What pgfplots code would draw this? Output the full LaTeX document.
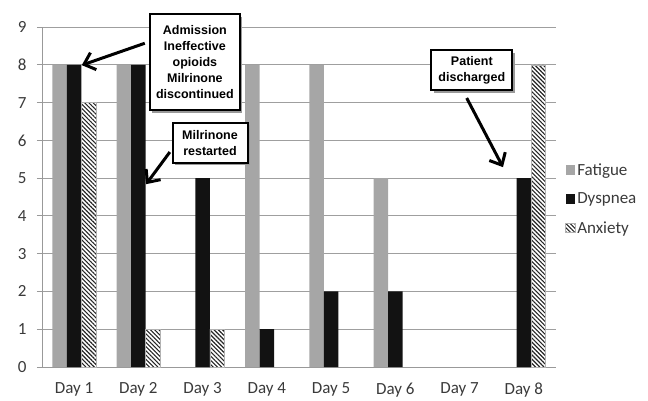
\documentclass[border=0pt]{standalone}
\usepackage{fontspec}
\setmainfont{Carlito}
\newfontfamily\annfont{Liberation Sans}
\usepackage{pgfplots}
\pgfplotsset{compat=1.18}
\usetikzlibrary{patterns.meta,arrows.meta,shadows}
\definecolor{fatigue}{HTML}{A6A6A6}
\definecolor{txt}{HTML}{3A3A3A}
\begin{document}
\begin{tikzpicture}
\useasboundingbox (-42pt,-33pt) rectangle (606pt,367pt);
\begin{axis}[
  scale only axis, width=514pt, height=340pt,
  xmin=-0.5, xmax=7.5, ymin=0, ymax=9,
  ybar, bar width=0.225,
  clip=false,
  axis lines=left,
  axis line style={-, draw=gray!80, line width=0.9pt},
  xtick={0,...,7},
  xticklabels={Day 1,Day 2,Day 3,Day 4,Day 5,Day 6,Day 7,Day 8},
  major x tick style={draw=none},
  ytick={0,...,9},
  tick align=outside,
  major y tick style={draw=gray!80, line width=0.9pt},
  major tick length=5pt,
  ymajorgrids,
  grid style={draw=gray!75, line width=0.9pt},
  /pgf/number format/assume math mode=true,
  tick label style={font=\fontsize{17}{19}\selectfont, text=txt},
  xticklabel style={yshift=-7pt},
  yticklabel style={xshift=-7pt},
  legend style={draw=none, fill=none, at={(1.012,0.61)}, anchor=north west,
     font=\fontsize{17}{19}\selectfont, text=txt, row sep=12pt,
     /tikz/every even column/.append style={column sep=1pt}},
  legend cell align=left,
  legend image code/.code={\draw[#1, draw=none] (0pt,-4.5pt) rectangle (9.5pt,5pt);},
]
\addplot[bar shift=-0.225, fill=fatigue, draw=none] coordinates {(0,8) (1,8) (3,8) (4,8) (5,5)};
\addplot[bar shift=0, fill=black!93, draw=none] coordinates {(0,8) (1,8) (2,5) (3,1) (4,2) (5,2) (7,5)};
\addplot[bar shift=0.225, fill=white, draw=gray!60, line width=0.4pt,
  postaction={pattern={Lines[angle=-45,distance=3pt,line width=1.1pt]}, pattern color=black!85}]
  coordinates {(0,7) (1,1) (2,1) (7,8)};
\legend{Fatigue,Dyspnea,Anxiety}

\tikzset{annbox/.style={draw=black, line width=2pt, fill=white, align=center,
   font=\annfont\bfseries\fontsize{12.5}{16}\selectfont, inner sep=3pt,
   drop shadow={shadow xshift=2.5pt, shadow yshift=-2.5pt, fill=gray!80, opacity=1}},
   annarrow/.style={line width=3pt, -{Straight Barb[length=10pt,width=18pt]}}}

\draw[annarrow] (axis cs:1.10,8.57) -- (axis cs:0.12,7.99);
\draw[annarrow] (axis cs:1.49,5.69) -- (axis cs:1.12,4.84);
\draw[annarrow] (axis cs:6.11,7.12) -- (axis cs:6.675,5.29);
\node[annbox, minimum width=90pt, minimum height=96pt] at (axis cs:1.88,8.07) {Admission\\Ineffective\\opioids\\Milrinone\\discontinued};
\node[annbox, minimum width=75pt, minimum height=40pt] at (axis cs:2.115,5.93) {Milrinone\\restarted};
\node[annbox, minimum width=81pt, minimum height=40pt] at (axis cs:6.19,7.86) {Patient\\discharged};
\end{axis}
\end{tikzpicture}
\end{document}
